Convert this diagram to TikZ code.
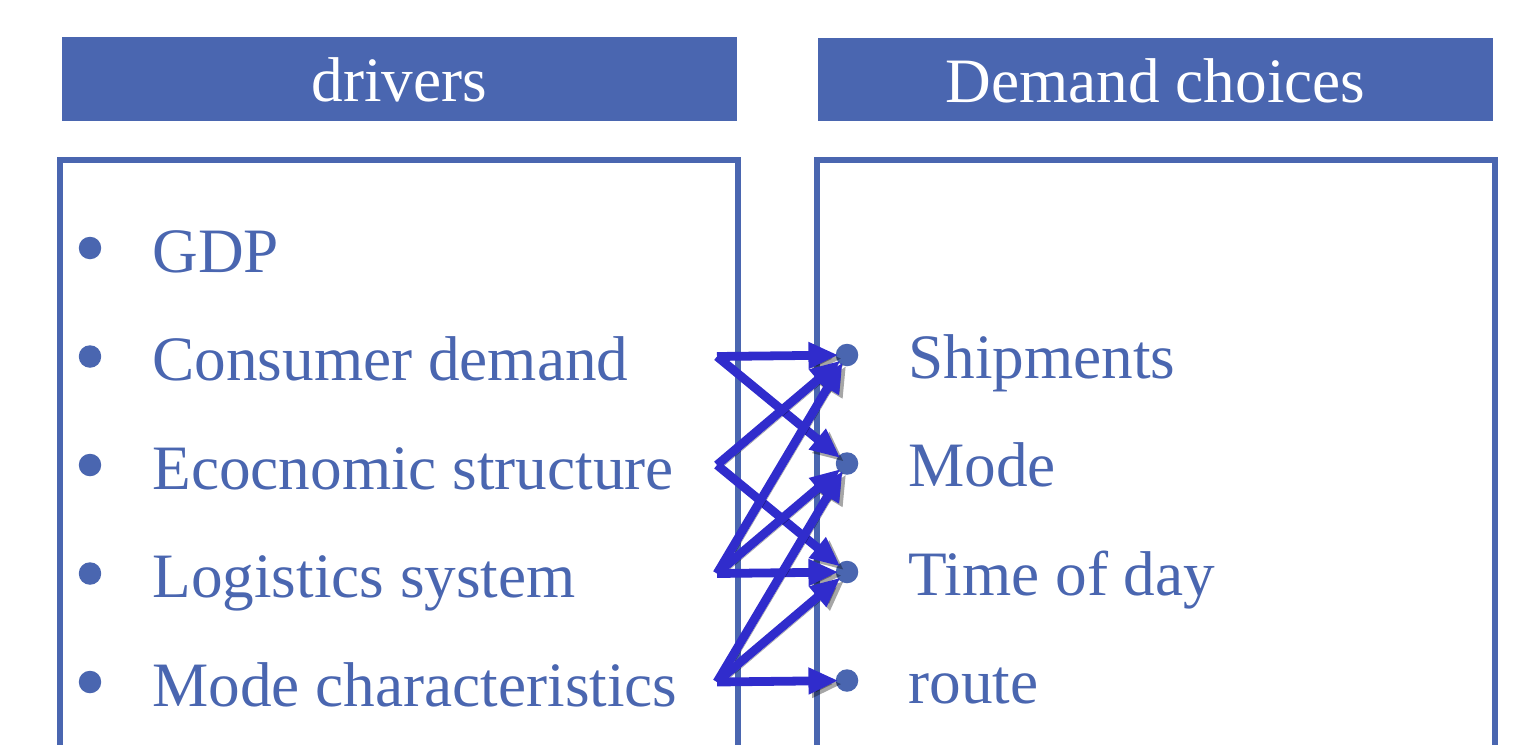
\documentclass[tikz,border=0pt]{standalone}
\usepackage{fontspec}
\setmainfont{Liberation Serif}
\usetikzlibrary{arrows.meta}

\definecolor{slideblue}{RGB}{74,102,176}
\definecolor{arrowblue}{RGB}{48,44,204}

\tikzset{
    header/.style={fill=slideblue, text=white, inner sep=0pt,
        minimum width=13.5cm, minimum height=1.68cm,
        text height=0.92cm, text depth=0cm,
        font=\fontsize{36}{40}\selectfont},
    panel/.style={draw=slideblue, line width=3.2pt},
    bulletdot/.style={circle, fill=slideblue, draw=none, inner sep=0pt,
        minimum size=0.45cm},
    item/.style={text=slideblue, anchor=base west, inner sep=0pt,
        font=\fontsize{36}{40}\selectfont},
    link/.style={-{Triangle[length=0.6cm,width=0.5cm]}, draw=arrowblue,
        fill=arrowblue, line width=5pt, shorten >=-0.06cm,
        preaction={draw=black, opacity=0.35,
            transform canvas={shift={(0.07cm,-0.07cm)}}}}
}

\begin{document}
\begin{tikzpicture}[x=0.02cm, y=-0.02cm]
\useasboundingbox (0,0) rectangle (1523,744);
\clip (0,0) rectangle (1523,744);

% Kopfzeilen
\node[header] (hdrv) at (399.5,79) {drivers};
\node[header] (hdem) at (1155.5,79.5) {Demand choices};

% Rahmen (unten abgeschnitten)
\draw[panel] (60,160) rectangle (738,800);
\draw[panel] (817,160) rectangle (1495,800);

% Einflussgroessen (links)
\foreach \n/\t [count=\i from 0] in {gdp/GDP, cons/Consumer demand,
        econ/Ecocnomic structure, logi/Logistics system,
        modc/Mode characteristics} {
    \pgfmathsetmacro\yb{272+108.5*\i}
    \node[bulletdot] (\n-dot) at (90,\yb-24) {};
    \node[item] (\n) at (152,\yb) {\t};
    \coordinate (\n-out) at (717,\yb-24);
}

% Nachfrageentscheidungen (rechts)
\foreach \n/\t [count=\i from 0] in {ship/Shipments, mode/Mode,
        tod/Time of day, route/route} {
    \pgfmathsetmacro\yb{378+108.5*\i}
    \node[bulletdot] (\n) at (847,\yb-23) {};
    \node[item] (\n-txt) at (908,\yb) {\t};
}

% Pfeile
\foreach \a/\b in {cons/ship, cons/mode, econ/ship, econ/tod,
        logi/ship, logi/mode, logi/tod, modc/mode, modc/tod, modc/route}
    \draw[link] (\a-out) -- (\b);

\end{tikzpicture}
\end{document}
